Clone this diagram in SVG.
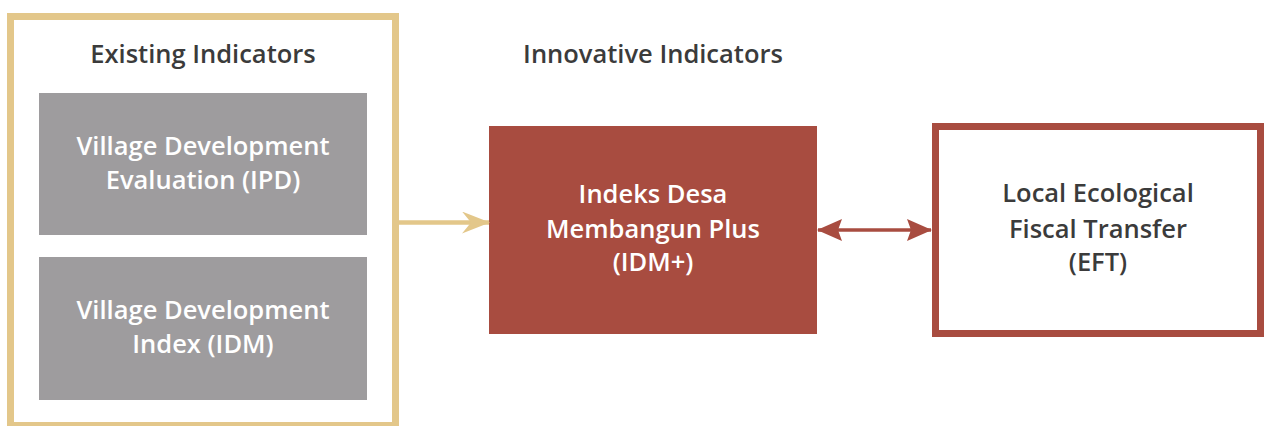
<svg xmlns="http://www.w3.org/2000/svg" width="1264" height="426" viewBox="0 0 1264 426">
<style>
text{font-family:"Open Sans",Lato,"Liberation Sans",sans-serif;font-weight:600;text-anchor:middle;font-size:25.5px}
.hd{fill:#3b3b3b}
.wt{fill:#ffffff}
.dk{fill:#3b3b3b}
.gray{fill:#9e9c9e}
</style>
<defs>
<marker id="goldHead" viewBox="0 0 28 22" refX="27" refY="11" markerWidth="28" markerHeight="22" markerUnits="userSpaceOnUse" orient="auto">
<path d="M0,0 L28,11 L0,22 L9,11 Z" fill="#e3c78a"/>
</marker>
<marker id="redHead" viewBox="0 0 25 22" refX="24" refY="11" markerWidth="25" markerHeight="22" markerUnits="userSpaceOnUse" orient="auto-start-reverse">
<path d="M0,0 L25,11 L0,22 L4,11 Z" fill="#a84c40"/>
</marker>
</defs>
<g id="existing">
<rect x="10.5" y="16.5" width="385" height="409" fill="#ffffff" stroke="#e3c78a" stroke-width="7"/>
<text class="hd" x="203" y="63">Existing Indicators</text>
</g>
<g id="ipd">
<rect class="gray" x="39" y="93" width="328" height="142"/>
<text class="wt" x="203" y="155">Village Development</text>
<text class="wt" x="203" y="189">Evaluation (IPD)</text>
</g>
<g id="idm">
<rect class="gray" x="39" y="257" width="328" height="143"/>
<text class="wt" x="203" y="319">Village Development</text>
<text class="wt" x="203" y="353">Index (IDM)</text>
</g>
<g id="innovative">
<text class="hd" x="653" y="63">Innovative Indicators</text>
</g>
<g id="idmplus">
<rect x="489" y="126" width="328" height="208" fill="#a84c40"/>
<text class="wt" x="653" y="203">Indeks Desa</text>
<text class="wt" x="653" y="238">Membangun Plus</text>
<text class="wt" x="653" y="271">(IDM+)</text>
</g>
<g id="eft">
<rect x="935.5" y="126.5" width="325" height="207" fill="#ffffff" stroke="#a84c40" stroke-width="7"/>
<text class="dk" x="1098" y="202">Local Ecological</text>
<text class="dk" x="1098" y="238">Fiscal Transfer</text>
<text class="dk" x="1098" y="271">(EFT)</text>
</g>
<g id="connectors">
<line x1="399" y1="222.5" x2="489" y2="222.5" stroke="#e3c78a" stroke-width="4.5" marker-end="url(#goldHead)"/>
<line x1="818" y1="230" x2="931" y2="230" stroke="#a84c40" stroke-width="3.5" marker-start="url(#redHead)" marker-end="url(#redHead)"/>
</g>
</svg>
